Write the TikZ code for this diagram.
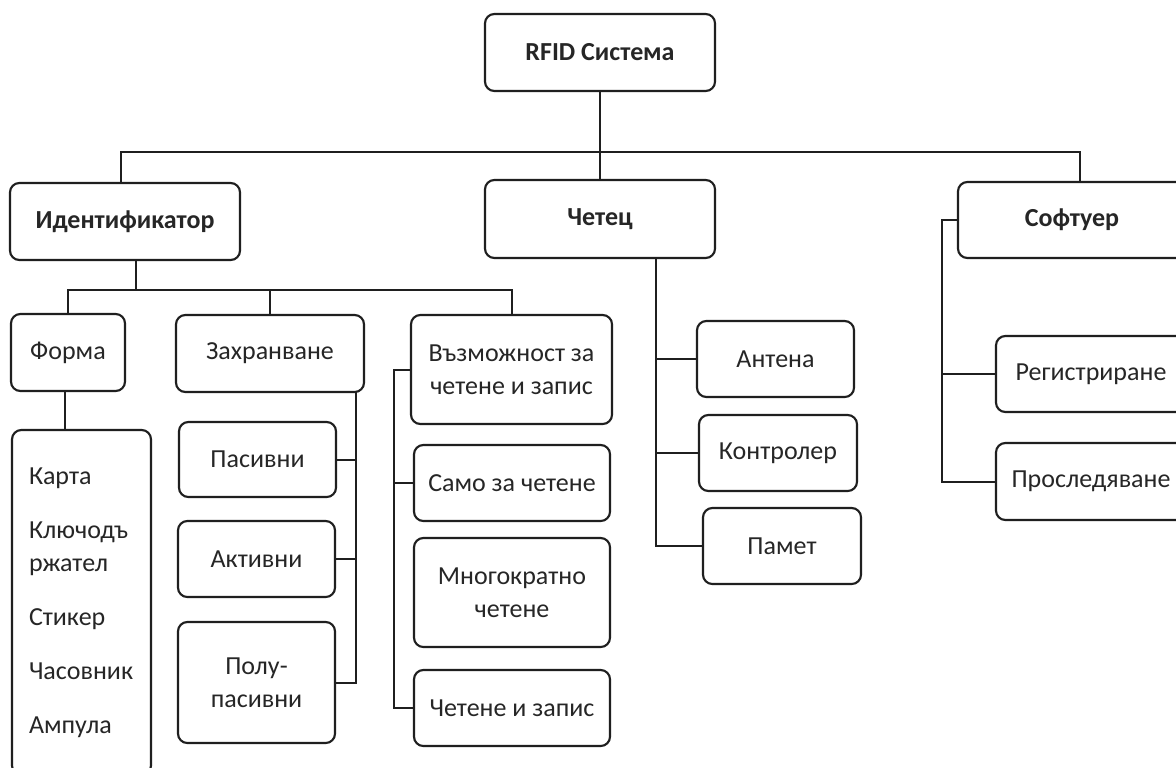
\documentclass[tikz,border=0pt]{standalone}
\usepackage{fontspec}
\setmainfont{Carlito}
% \bx[options]{name}{x1}{y1}{x2}{y2}{text}: a rounded box given by its corners
\newcommand\bx[7][]{\node[box,#1,minimum width={(#5-#3)*0.75pt},minimum height={(#6-#4)*0.75pt}] (#2) at ({(#3+#5)/2},{(#4+#6)/2}) {#7};}
\begin{document}
\begin{tikzpicture}[x=0.75pt,y=-0.75pt,
  box/.style={draw=black!88,line width=1.6pt,rounded corners=7pt,inner sep=0pt,outer sep=0pt,
    align=center,text=black!85,font=\fontsize{19.5}{24.75}\selectfont},
  head/.style={font=\fontsize{19.5}{24.75}\selectfont\bfseries},
  conn/.style={draw=black!88,line width=1.5pt}]
\clip (0,0) rectangle (1176,767);
\fill[white] (0,0) rectangle (1176,767);

% top level
\bx[head]{rfid}{485}{14}{715}{91}{RFID Система}
\bx[head]{idn}{10}{183}{240}{260}{Идентификатор}
\bx[head]{cht}{485}{180}{715}{258}{Четец}
\bx[head]{sof}{958}{182}{1186}{258}{Софтуер}

% identifier branch
\bx{form}{11}{314}{125}{391}{Форма}
\bx[align=left,text width=78.75pt]{list}{12}{430}{151}{775}{Карта\\[15.75pt]Ключодъ\\ржател\\[15.75pt]Стикер\\[15.75pt]Часовник\\[15.75pt]Ампула}
\bx{zah}{176}{315}{364}{392}{Захранване}
\bx{pas}{179}{422}{336}{497}{Пасивни}
\bx{akt}{178}{521}{335}{597}{Активни}
\bx{polu}{178}{622}{335}{743}{Полу-\\пасивни}
\bx{vaz}{411}{315}{612}{424}{Възможност за\\четене и запис}
\bx{samo}{414}{445}{610}{521}{Само за четене}
\bx{mnog}{414}{538}{610}{647}{Многократно\\четене}
\bx{chz}{414}{670}{610}{746}{Четене и запис}

% reader branch
\bx{ant}{697}{321}{854}{397}{Антена}
\bx{kon}{699}{415}{857}{491}{Контролер}
\bx{pam}{703}{508}{861}{584}{Памет}

% software branch
\bx{reg}{996}{336}{1186}{412}{Регистриране}
\bx{pro}{996}{443}{1186}{520}{Проследяване}

% bus lines
\coordinate (b1) at (121,152);
\coordinate (b2) at (1080,152);
\coordinate (c0) at (136,290);
\coordinate (zb) at (356,0);
\coordinate (vb) at (394,0);
\coordinate (cb) at (656,0);
\coordinate (sb) at (942,0);

\draw[conn] (rfid.south) -- (cht.north);
\draw[conn] (idn.north -| b1) -- (b1) -- (b2) -- (sof.north -| b2);

\draw[conn] (idn.south -| c0) -- (c0);
\draw[conn] (form.north) -- (form.north |- c0) -- (vaz.north |- c0) -- (vaz.north);
\draw[conn] (zah.north) -- (zah.north |- c0);
\draw[conn] ([xshift=-2pt]form.south) -- ([xshift=-2pt]form.south |- list.north);

\draw[conn] (zah.south -| zb) |- (polu.east);
\draw[conn] (pas.east) -- (pas.east -| zb);
\draw[conn] (akt.east) -- (akt.east -| zb);

\draw[conn] (vaz.west) -- (vaz.west -| vb) |- (chz.west);
\draw[conn] (samo.west) -- (samo.west -| vb);

\draw[conn] (cht.south -| cb) |- (pam.west);
\draw[conn] (ant.west) -- (ant.west -| cb);
\draw[conn] (kon.west) -- (kon.west -| cb);

\draw[conn] (sof.west) -- (sof.west -| sb) |- (pro.west);
\draw[conn] (reg.west) -- (reg.west -| sb);
\end{tikzpicture}
\end{document}
